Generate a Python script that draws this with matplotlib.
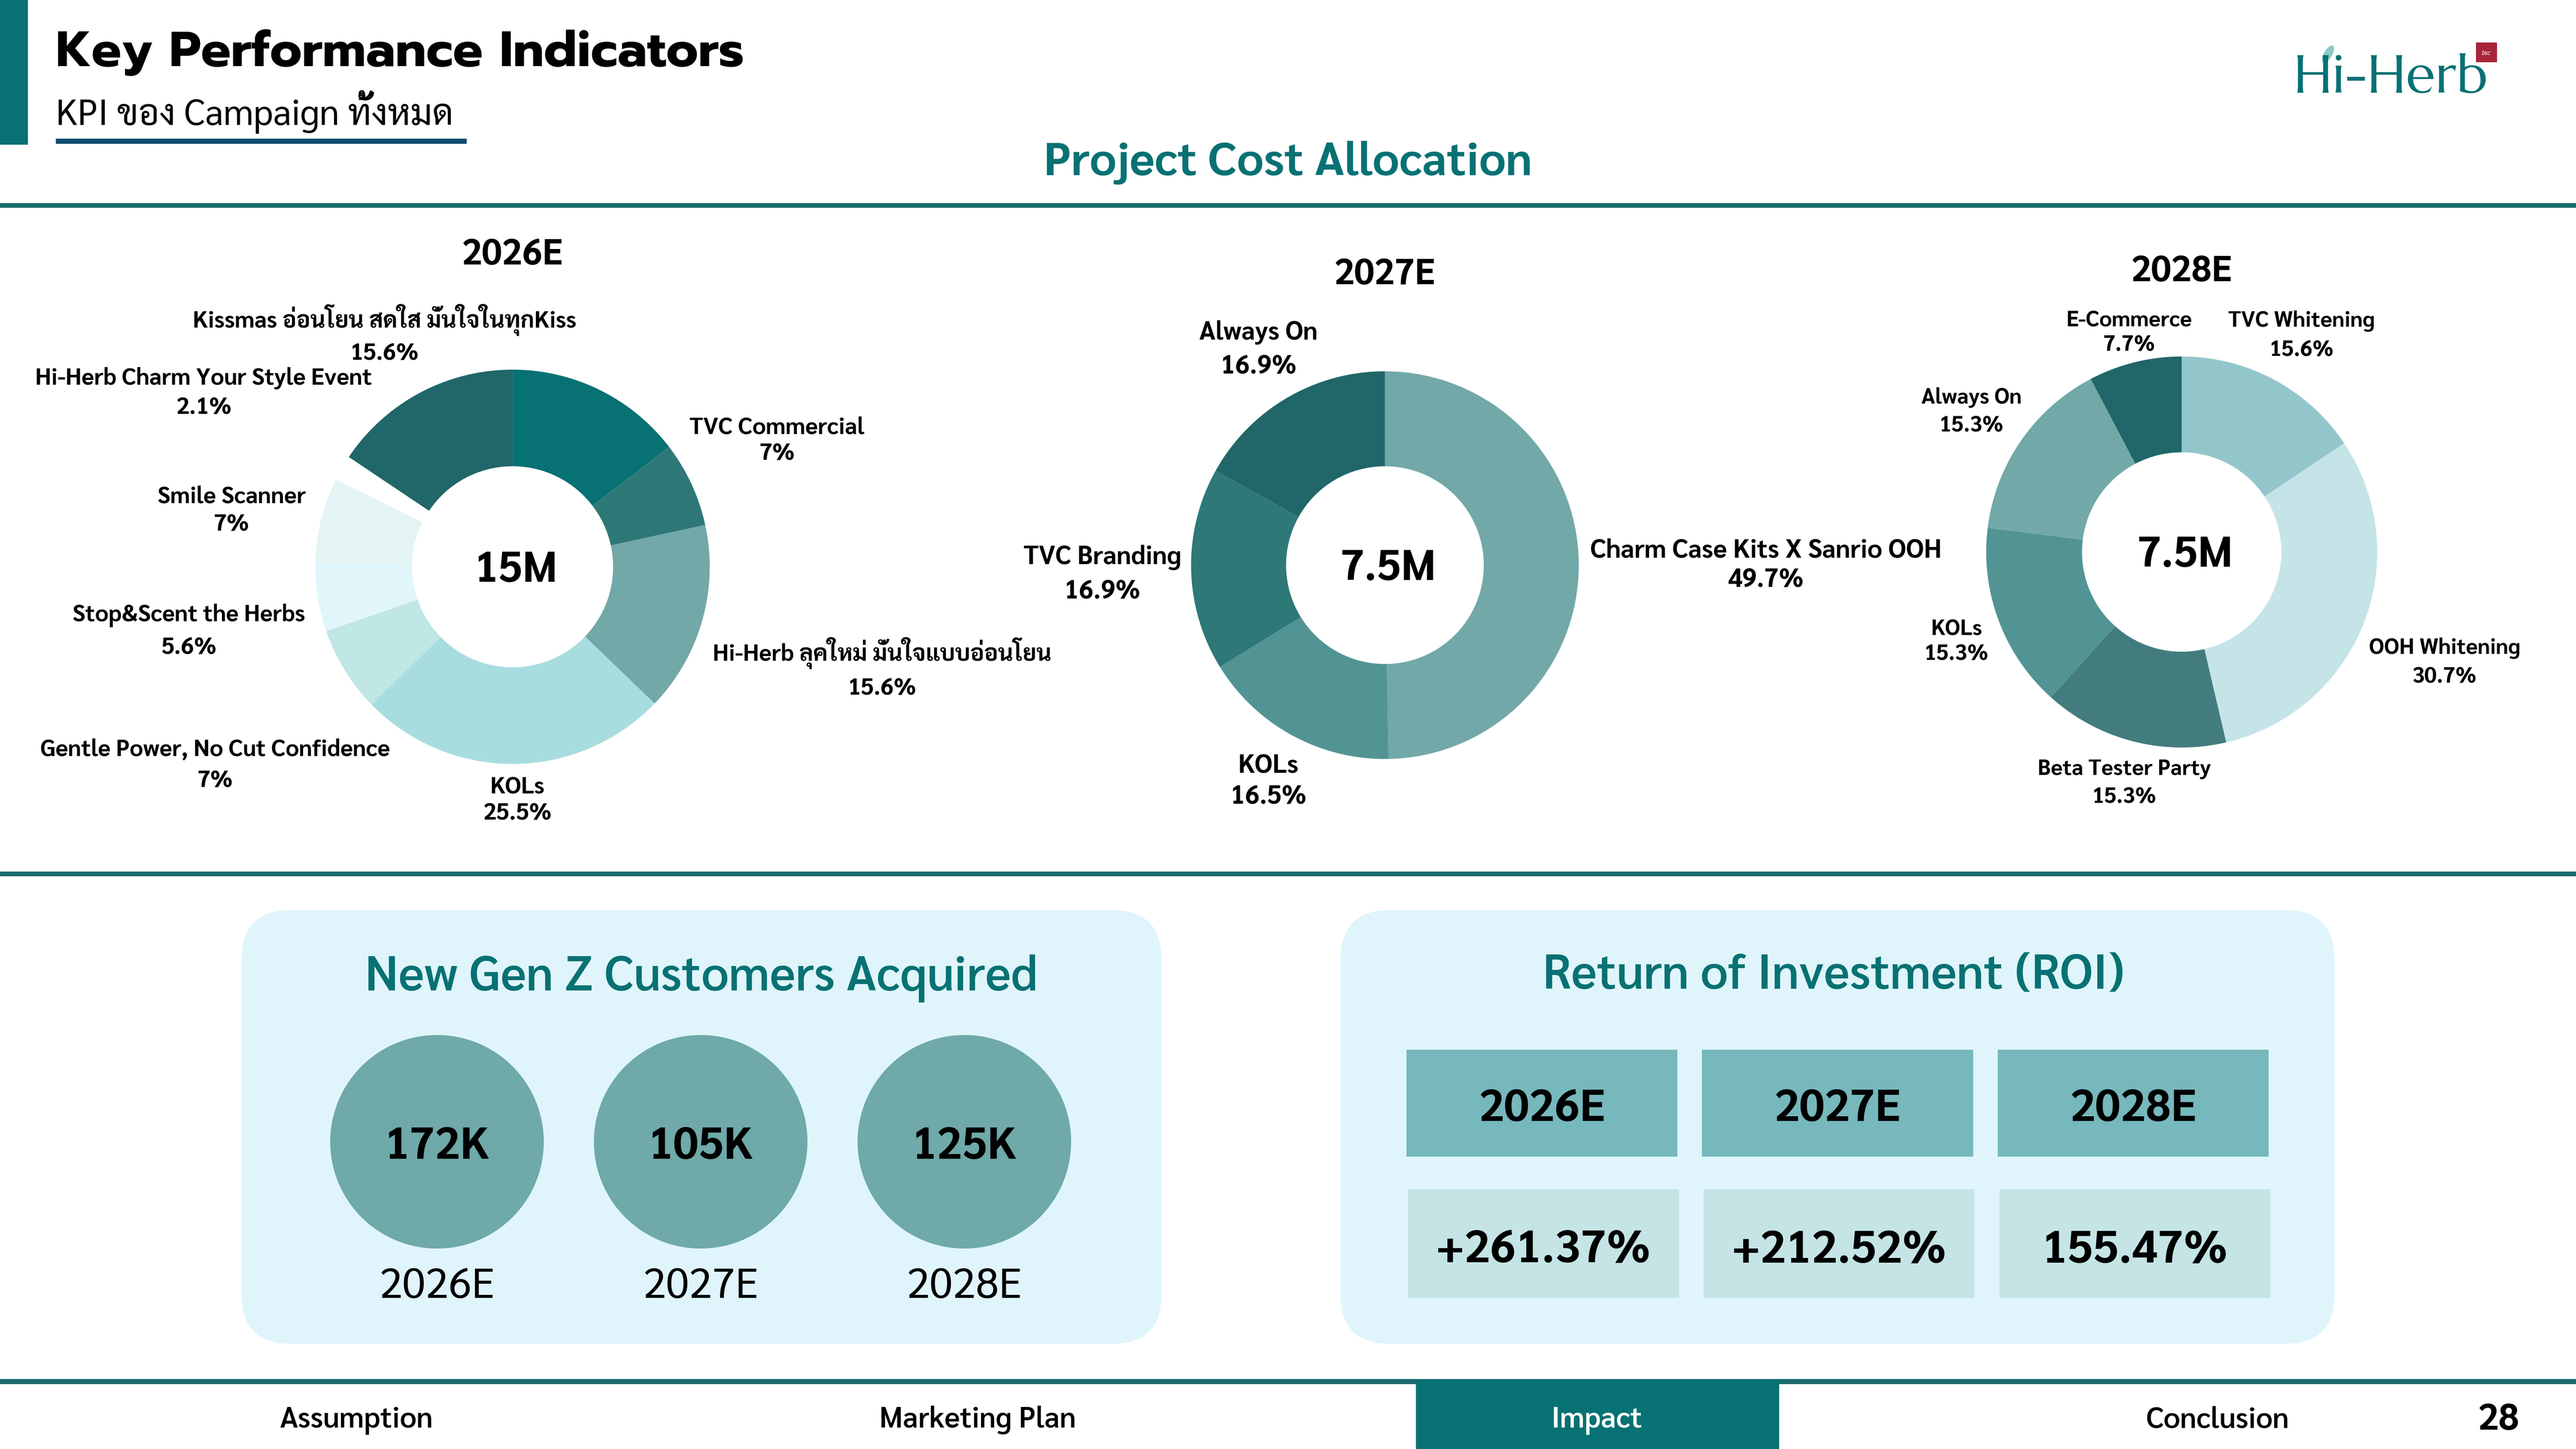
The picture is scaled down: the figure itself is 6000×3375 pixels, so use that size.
import matplotlib
matplotlib.use('Agg')
import matplotlib.pyplot as plt
from matplotlib import font_manager as fm
from matplotlib.patches import Rectangle, FancyBboxPatch, Circle, Ellipse

# ---------------- data ----------------
title_main = 'Key Performance Indicators'
subtitle_main = 'KPI ของ Campaign ทั้งหมด'
section_title = 'Project Cost Allocation'

years = ['2026E', '2027E', '2028E']
budget_totals = ['15M', '7.5M', '7.5M']

labels_2026 = ['', 'TVC Commercial', 'Hi-Herb ลุคใหม่ มั่นใจแบบอ่อนโยน', 'KOLs',
               'Gentle Power, No Cut Confidence', 'Stop&Scent the Herbs', 'Smile Scanner',
               'Hi-Herb Charm Your Style Event', 'Kissmas อ่อนโยน สดใส มั่นใจในทุกKiss']
values_2026 = [14.6, 7, 15.6, 25.5, 7, 5.6, 7, 2.1, 15.6]

labels_2027 = ['Charm Case Kits X Sanrio OOH', 'KOLs', 'TVC Branding', 'Always On']
values_2027 = [49.7, 16.5, 16.9, 16.9]

labels_2028 = ['TVC Whitening', 'OOH Whitening', 'Beta Tester Party', 'KOLs', 'Always On', 'E-Commerce']
values_2028 = [15.6, 30.7, 15.3, 15.3, 15.3, 7.7]

gen_z_title = 'New Gen Z Customers Acquired'
gen_z_customers = ['172K', '105K', '125K']

roi_title = 'Return of Investment (ROI)'
roi_values = ['+261.37%', '+212.52%', '155.47%']

nav_items = ['Assumption', 'Marketing Plan', 'Impact', 'Conclusion']
nav_active = 'Impact'
page_number = '28'

# ---------------- styles ----------------
colors_2026 = ['#077173', '#2e7878', '#72a8a8', '#a8dde0', '#c0e6e6', '#e0f6fb', '#e4f4f4', '#ffffff', '#216668']
colors_2027 = ['#72a8a8', '#529494', '#2e7878', '#216668']
colors_2028 = ['#93c6cb', '#c5e4e7', '#437c7e', '#529494', '#72a8a8', '#216668']

TEAL = '#077173'
LINE = '#1b6b6c'
NAVY = '#0f4c6e'
PANEL = '#dff5fb'
BUBBLE = '#6fa9a9'
ROI_HEAD = '#76b8bc'
ROI_VAL = '#c5e4e6'

available = set(f.name for f in fm.fontManager.ttflist)
def fam(*cands):
    lst = [c for c in cands if c in available]
    return lst + ['DejaVu Sans']

BODY = fam('Sarabun', 'Noto Sans Thai', 'Loma', 'Noto Sans')
HEAD = fam('Prompt', 'Kanit', 'Sarabun')
LOGO = fam('Marcellus', 'Optima', 'Noto Sans')
plt.rcParams['font.family'] = BODY

W, H = 1568, 882
fig = plt.figure(figsize=(20, 11.25), dpi=300)
fig.patch.set_facecolor('white')
bg = fig.add_axes([0, 0, 1, 1])
bg.set_xlim(0, W)
bg.set_ylim(H, 0)
bg.axis('off')
bg.set_zorder(0)

DY = 2.5  # vertical centring correction for text

def T(x, y, s, size, **kw):
    kw.setdefault('ha', 'center')
    kw.setdefault('va', 'center')
    kw.setdefault('family', BODY)
    return bg.text(x, y + DY, s, fontsize=size, **kw)

# ---- header ----
bg.add_patch(Rectangle((0, 0), 17, 88, color=TEAL, lw=0))
T(34, 30, title_main, 27.8, ha='left', weight='bold', family=HEAD, color='black')
T(34, 65.5, subtitle_main, 20, ha='left', color='black')
bg.add_patch(Rectangle((34, 84.5), 250, 3, color=NAVY, lw=0))

# logo
T(1455, 46, 'Hi-Herb', 30, color=TEAL, family=LOGO)
bg.add_patch(Ellipse((1417, 33), 5, 12, angle=30, color='#8fc9c4', lw=0))
bg.add_patch(Rectangle((1507, 26), 13, 12, color='#a8243a', lw=0))
T(1513.5, 30, 'bsc', 3.5, color='white', style='italic')

T(784, 97, section_title, 26, color=TEAL, weight='bold')

# separators
bg.add_patch(Rectangle((0, 123.5), W, 3, color=LINE, lw=0))
bg.add_patch(Rectangle((0, 530.5), W, 3, color=LINE, lw=0))

# ---- donuts ----
def donut(cx, cy, r, vals, cols, year, ty, total):
    ax = fig.add_axes([(cx - r) / W, 1 - (cy + r) / H, 2 * r / W, 2 * r / H])
    ax.pie(vals, colors=cols, startangle=90, counterclock=False, radius=1,
           wedgeprops=dict(width=0.49, linewidth=0))
    ax.set_xlim(-1, 1)
    ax.set_ylim(-1, 1)
    ax.set_aspect('equal')
    ax.axis('off')
    T(cx, ty, year, 20, weight='bold')
    T(cx + 2, cy, total, 24, weight='bold')

donut(312, 345, 120, values_2026, colors_2026, years[0], 153, budget_totals[0])
donut(843, 344, 118, values_2027, colors_2027, years[1], 165, budget_totals[1])
donut(1328, 336, 119, values_2028, colors_2028, years[2], 163, budget_totals[2])

def pct(v):
    return f'{v:g}%'

pos_2026 = [None, (473, 258, 274), (537, 395, 417), (315, 477, 493), (131, 454, 473),
            (115, 372, 392), (141, 300, 317), (124, 228, 246), (234, 192, 213)]
for lab, v, p in zip(labels_2026, values_2026, pos_2026):
    if p is None or not lab:
        continue
    T(p[0], p[1], lab, 13, weight='bold')
    T(p[0], p[2], pct(v), 13, weight='bold')

pos_2027 = [(1075, 333, 351), (772, 464, 483), (671, 337, 358), (766, 200, 221)]
for lab, v, p in zip(labels_2027, values_2027, pos_2027):
    T(p[0], p[1], lab, 14.4, weight='bold')
    T(p[0], p[2], pct(v), 14.4, weight='bold')

pos_2028 = [(1401, 193, 211), (1488, 392, 410), (1293, 466, 483), (1191, 381, 396),
            (1200, 240, 257), (1296, 193, 208)]
for lab, v, p in zip(labels_2028, values_2028, pos_2028):
    T(p[0], p[1], lab, 12.2, weight='bold')
    T(p[0], p[2], pct(v), 12.2, weight='bold')

# ---- bottom panels ----
bg.add_patch(FancyBboxPatch((147, 554), 560, 264, boxstyle='round,pad=0,rounding_size=30',
                            fc=PANEL, ec='none'))
bg.add_patch(FancyBboxPatch((816, 554), 605, 264, boxstyle='round,pad=0,rounding_size=30',
                            fc=PANEL, ec='none'))

T(427, 593, gen_z_title, 27, color=TEAL, weight='semibold')
for i, (yr, val) in enumerate(zip(years, gen_z_customers)):
    cx = 266 + i * 160.5
    bg.add_patch(Circle((cx, 695), 65, color=BUBBLE, lw=0))
    T(cx, 696, val, 25, weight='bold')
    T(cx, 781, yr, 23.5)

T(1116, 592, roi_title, 27, color=TEAL, weight='semibold')
for i, (yr, val) in enumerate(zip(years, roi_values)):
    x0 = 856 + i * 180
    bg.add_patch(Rectangle((x0, 639), 165, 65, color=ROI_HEAD, lw=0))
    T(x0 + 82.5, 673, yr, 25, weight='bold')
    bg.add_patch(Rectangle((x0 + 1, 724), 165, 66, color=ROI_VAL, lw=0))
    T(x0 + 83.5, 759, val, 25.5, weight='bold')

# ---- footer ----
bg.add_patch(Rectangle((0, 839.5), W, 3, color=LINE, lw=0))
nav_x = [217, 595, 972, 1350]
for name, x in zip(nav_items, nav_x):
    if name == nav_active:
        bg.add_patch(Rectangle((862, 840), 221, 42, color=TEAL, lw=0))
        T(x, 862, name, 16.3, weight='semibold', color='white')
    else:
        T(x, 862, name, 16.3, weight='semibold', color='black')
T(1521, 862, page_number, 20.5, weight='bold', color='black')

fig.savefig('out.png', dpi=300, facecolor='white')
